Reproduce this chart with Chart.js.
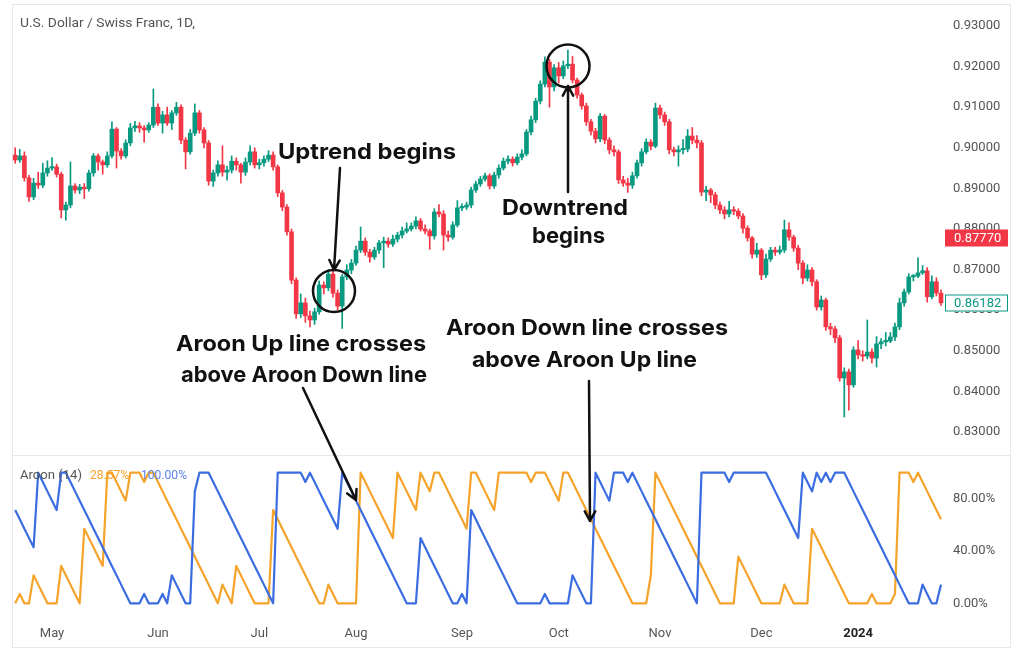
<!DOCTYPE html>
<html>
<head>
<meta charset="utf-8">
<script src="https://cdn.jsdelivr.net/npm/chart.js@4.4.0/dist/chart.umd.min.js"></script>
<style>
  body { margin: 0; background: #fff; width: 1024px; height: 661px; overflow: hidden; position: relative; }
  #frame { position: absolute; left: 12px; top: 4px; width: 999px; height: 644px; border: 1px solid #e6e8ec; box-sizing: border-box; }
  #sep { position: absolute; left: 12px; top: 455px; width: 999px; height: 1px; background: #e6e8ec; }
  canvas { position: absolute; }
  #price { left: 12px; top: 4px; }
  #aroon { left: 12px; top: 456px; }
  svg { position: absolute; left: 0; top: 0; }
</style>
</head>
<body>
<div id="frame"></div>
<div id="sep"></div>
<canvas id="price" width="998" height="451"></canvas>
<canvas id="aroon" width="998" height="191"></canvas>

<svg width="1024" height="661" font-family="Roboto, sans-serif">
  <text x="20" y="26.5" font-size="13.5" fill="#555" textLength="175" lengthAdjust="spacingAndGlyphs">U.S. Dollar / Swiss Franc, 1D,</text>
  <text x="20" y="479" font-size="12.5" fill="#555" textLength="62" lengthAdjust="spacingAndGlyphs">Aroon (14)</text>
  <text x="90" y="479" font-size="12.5" fill="#f5a32a" textLength="39" lengthAdjust="spacingAndGlyphs">28.57%</text>
  <text x="141" y="479" font-size="12.5" fill="#5b82e8" textLength="46" lengthAdjust="spacingAndGlyphs">100.00%</text>

  <g font-family="Inter, 'Open Sans', sans-serif" font-weight="700" font-size="22" fill="#111">
    <text x="278" y="159" textLength="178" lengthAdjust="spacingAndGlyphs">Uptrend begins</text>
    <text x="502" y="215" textLength="126" lengthAdjust="spacingAndGlyphs">Downtrend</text>
    <text x="532" y="243" textLength="73" lengthAdjust="spacingAndGlyphs">begins</text>
    <text x="176" y="351" textLength="250" lengthAdjust="spacingAndGlyphs">Aroon Up line crosses</text>
    <text x="181" y="382" textLength="246" lengthAdjust="spacingAndGlyphs">above Aroon Down line</text>
    <text x="446" y="335" textLength="282" lengthAdjust="spacingAndGlyphs">Aroon Down line crosses</text>
    <text x="472" y="366.5" textLength="225" lengthAdjust="spacingAndGlyphs">above Aroon Up line</text>
  </g>

  <g fill="none" stroke="#111" stroke-width="2.5" stroke-linecap="round" stroke-linejoin="round">
    <circle cx="334" cy="291" r="21"/>
    <circle cx="568" cy="66" r="21.5"/>
    <path d="M340 168 L334 270 M329.4 260 L334 270 L339.7 260.6"/>
    <path d="M568 192 L568 86 M562.8 95.7 L568 86 L573.2 95.7"/>
    <path d="M303 388 L356 500 M347.2 493.4 L356 500 L356.5 489"/>
    <path d="M589 381 L590 521 M584.8 511.3 L590 521 L595.2 511.3"/>
  </g>
</svg>

<script>
// USD/CHF daily candles, 19 Apr 2023 .. 25 Jan 2024 (index = trading day)
const opens = [
  0.8982,0.8970,0.8980,0.8926,0.8879,0.8913,0.8908,0.8938,0.8950,0.8953,
  0.8935,0.8847,0.8859,0.8906,0.8896,0.8903,0.8899,0.8938,0.8980,0.8965,
  0.8958,0.8980,0.9046,0.8992,0.8980,0.9012,0.9049,0.9054,0.9049,0.9044,
  0.9056,0.9100,0.9061,0.9081,0.9061,0.9086,0.9100,0.9019,0.8990,0.9036,
  0.9086,0.9044,0.9012,0.8918,0.8938,0.8958,0.8940,0.8945,0.8967,0.8958,
  0.8940,0.8965,0.8990,0.8958,0.8963,0.8972,0.8982,0.8953,0.8889,0.8854,
  0.8793,0.8674,0.8591,0.8618,0.8586,0.8576,0.8596,0.8662,0.8655,0.8689,
  0.8642,0.8610,0.8682,0.8699,0.8716,0.8748,0.8770,0.8743,0.8731,0.8748,
  0.8766,0.8770,0.8763,0.8775,0.8785,0.8795,0.8800,0.8807,0.8820,0.8800,
  0.8795,0.8783,0.8842,0.8837,0.8785,0.8780,0.8810,0.8852,0.8854,0.8859,
  0.8896,0.8911,0.8923,0.8931,0.8906,0.8933,0.8950,0.8967,0.8972,0.8963,
  0.8977,0.8985,0.9039,0.9069,0.9115,0.9157,0.9211,0.9150,0.9197,0.9177,
  0.9202,0.9206,0.9167,0.9130,0.9103,0.9064,0.9041,0.9022,0.9078,0.9019,
  0.8995,0.8990,0.8921,0.8913,0.8908,0.8931,0.8963,0.8990,0.9014,0.9004,
  0.9098,0.9081,0.9064,0.8995,0.8990,0.8995,0.8997,0.9029,0.9019,0.9012,
  0.8891,0.8896,0.8884,0.8859,0.8847,0.8837,0.8847,0.8844,0.8832,0.8802,
  0.8778,0.8738,0.8748,0.8687,0.8726,0.8748,0.8743,0.8748,0.8798,0.8780,
  0.8753,0.8716,0.8679,0.8699,0.8670,0.8608,0.8625,0.8559,0.8554,0.8532,
  0.8433,0.8448,0.8416,0.8502,0.8490,0.8487,0.8497,0.8482,0.8517,0.8522,
  0.8524,0.8534,0.8559,0.8618,0.8645,0.8682,0.8684,0.8692,0.8697,0.8633,
  0.8670,0.8642
];
const highs = [
  0.9000,0.8996,0.8990,0.8932,0.8925,0.8940,0.8962,0.8968,0.8976,0.8960,
  0.8940,0.8866,0.8965,0.8912,0.8910,0.8912,0.8945,0.8986,0.8985,0.8970,
  0.8990,0.9064,0.9050,0.8998,0.9020,0.9060,0.9065,0.9062,0.9055,0.9062,
  0.9145,0.9108,0.9090,0.9100,0.9092,0.9112,0.9106,0.9025,0.9045,0.9108,
  0.9092,0.9050,0.9018,0.8945,0.8968,0.9005,0.8955,0.8980,0.8975,0.8962,
  0.8975,0.9005,0.9000,0.8972,0.8980,0.8993,0.8990,0.8958,0.8895,0.8860,
  0.8800,0.8680,0.8640,0.8630,0.8598,0.8605,0.8672,0.8670,0.8700,0.8698,
  0.8650,0.8688,0.8712,0.8725,0.8758,0.8805,0.8778,0.8750,0.8755,0.8772,
  0.8780,0.8778,0.8785,0.8792,0.8805,0.8815,0.8815,0.8830,0.8826,0.8810,
  0.8800,0.8850,0.8860,0.8845,0.8795,0.8818,0.8870,0.8862,0.8866,0.8903,
  0.8918,0.8930,0.8938,0.8936,0.8940,0.8958,0.8975,0.8980,0.8978,0.8985,
  0.8995,0.9045,0.9078,0.9122,0.9165,0.9224,0.9218,0.9205,0.9210,0.9214,
  0.9241,0.9225,0.9172,0.9135,0.9110,0.9070,0.9048,0.9085,0.9082,0.9025,
  0.9005,0.8995,0.8930,0.8925,0.8940,0.8970,0.8998,0.9022,0.9020,0.9110,
  0.9105,0.9088,0.9070,0.9002,0.9005,0.9020,0.9045,0.9050,0.9030,0.9018,
  0.8905,0.8900,0.8890,0.8866,0.8855,0.8868,0.8855,0.8850,0.8838,0.8808,
  0.8782,0.8765,0.8752,0.8738,0.8755,0.8755,0.8758,0.8822,0.8815,0.8785,
  0.8760,0.8722,0.8712,0.8705,0.8675,0.8635,0.8630,0.8568,0.8560,0.8538,
  0.8458,0.8455,0.8510,0.8525,0.8500,0.8576,0.8505,0.8535,0.8530,0.8545,
  0.8545,0.8568,0.8630,0.8652,0.8690,0.8688,0.8729,0.8710,0.8705,0.8685,
  0.8680,0.8650
];
const lows = [
  0.8962,0.8964,0.8918,0.8868,0.8872,0.8900,0.8902,0.8930,0.8944,0.8928,
  0.8827,0.8822,0.8852,0.8888,0.8887,0.8875,0.8893,0.8930,0.8945,0.8935,
  0.8952,0.8975,0.8950,0.8972,0.8975,0.9005,0.9040,0.9038,0.9014,0.9038,
  0.9050,0.9055,0.9036,0.9055,0.9045,0.9080,0.9010,0.8948,0.8984,0.9030,
  0.9036,0.9000,0.8908,0.8905,0.8930,0.8930,0.8920,0.8938,0.8945,0.8913,
  0.8932,0.8958,0.8950,0.8948,0.8955,0.8966,0.8945,0.8880,0.8845,0.8785,
  0.8665,0.8580,0.8582,0.8570,0.8559,0.8565,0.8590,0.8640,0.8648,0.8632,
  0.8600,0.8555,0.8675,0.8690,0.8710,0.8742,0.8735,0.8718,0.8725,0.8740,
  0.8705,0.8755,0.8757,0.8768,0.8778,0.8790,0.8795,0.8800,0.8795,0.8788,
  0.8750,0.8775,0.8830,0.8748,0.8770,0.8775,0.8805,0.8845,0.8848,0.8852,
  0.8890,0.8905,0.8918,0.8898,0.8900,0.8925,0.8945,0.8960,0.8955,0.8958,
  0.8970,0.8980,0.9032,0.9062,0.9108,0.9150,0.9100,0.9140,0.9160,0.9170,
  0.9195,0.9160,0.9122,0.9095,0.9055,0.9032,0.9012,0.9015,0.9010,0.8985,
  0.8980,0.8912,0.8905,0.8890,0.8900,0.8925,0.8955,0.8985,0.8995,0.9000,
  0.9072,0.9055,0.8985,0.8980,0.8955,0.8985,0.8990,0.9010,0.9000,0.8882,
  0.8870,0.8865,0.8850,0.8838,0.8825,0.8830,0.8835,0.8825,0.8790,0.8770,
  0.8728,0.8730,0.8675,0.8680,0.8720,0.8735,0.8738,0.8742,0.8772,0.8745,
  0.8700,0.8665,0.8672,0.8660,0.8600,0.8600,0.8550,0.8540,0.8520,0.8425,
  0.8337,0.8354,0.8410,0.8480,0.8475,0.8480,0.8470,0.8460,0.8505,0.8512,
  0.8520,0.8525,0.8552,0.8610,0.8640,0.8672,0.8680,0.8688,0.8620,0.8628,
  0.8635,0.8612
];
const closes = [
  0.8970,0.8980,0.8926,0.8879,0.8913,0.8908,0.8938,0.8950,0.8953,0.8935,
  0.8847,0.8859,0.8906,0.8896,0.8903,0.8899,0.8938,0.8980,0.8965,0.8958,
  0.8980,0.9046,0.8992,0.8980,0.9012,0.9049,0.9054,0.9049,0.9044,0.9056,
  0.9100,0.9061,0.9081,0.9061,0.9086,0.9100,0.9019,0.8990,0.9036,0.9086,
  0.9044,0.9012,0.8918,0.8938,0.8958,0.8940,0.8945,0.8967,0.8958,0.8940,
  0.8965,0.8990,0.8958,0.8963,0.8972,0.8982,0.8953,0.8889,0.8854,0.8793,
  0.8674,0.8591,0.8618,0.8586,0.8576,0.8596,0.8662,0.8655,0.8689,0.8642,
  0.8610,0.8682,0.8699,0.8716,0.8748,0.8770,0.8743,0.8731,0.8748,0.8766,
  0.8770,0.8763,0.8775,0.8785,0.8795,0.8800,0.8807,0.8820,0.8800,0.8795,
  0.8783,0.8842,0.8837,0.8785,0.8780,0.8810,0.8852,0.8854,0.8859,0.8896,
  0.8911,0.8923,0.8931,0.8906,0.8933,0.8950,0.8967,0.8972,0.8963,0.8977,
  0.8985,0.9039,0.9069,0.9115,0.9157,0.9211,0.9150,0.9197,0.9177,0.9202,
  0.9206,0.9167,0.9130,0.9103,0.9064,0.9041,0.9022,0.9078,0.9019,0.8995,
  0.8990,0.8921,0.8913,0.8908,0.8931,0.8963,0.8990,0.9014,0.9004,0.9098,
  0.9081,0.9064,0.8995,0.8990,0.8995,0.8997,0.9029,0.9019,0.9012,0.8891,
  0.8896,0.8884,0.8859,0.8847,0.8837,0.8847,0.8844,0.8832,0.8802,0.8778,
  0.8738,0.8748,0.8687,0.8726,0.8748,0.8743,0.8748,0.8798,0.8780,0.8753,
  0.8716,0.8679,0.8699,0.8670,0.8608,0.8625,0.8559,0.8554,0.8532,0.8433,
  0.8448,0.8416,0.8502,0.8490,0.8487,0.8497,0.8482,0.8517,0.8522,0.8524,
  0.8534,0.8559,0.8618,0.8645,0.8682,0.8684,0.8692,0.8697,0.8633,0.8670,
  0.8642,0.86182
];

// Aroon (14), percent
const aroonUp = [
  0,7.1,0,0,21.4,14.3,7.1,0,0,0,
  28.6,21.4,14.3,7.1,0,57.1,50,42.9,35.7,28.6,
  100,100,92.9,85.7,78.6,100,100,100,92.9,100,
  100,92.9,85.7,78.6,71.4,64.3,57.1,50,42.9,35.7,
  28.6,21.4,14.3,7.1,0,14.3,7.1,0,28.6,21.4,
  14.3,7.1,0,0,0,0,71.4,64.3,57.1,50,
  42.9,35.7,28.6,21.4,14.3,7.1,0,0,14.3,7.1,
  0,0,0,0,0,100,92.9,85.7,78.6,71.4,
  64.3,57.1,50,100,92.9,85.7,78.6,71.4,100,92.9,
  85.7,100,100,92.9,85.7,78.6,71.4,64.3,57.1,100,
  100,92.9,85.7,78.6,71.4,100,100,100,100,100,
  100,100,92.9,100,100,100,92.9,85.7,78.6,100,
  100,92.9,85.7,78.6,71.4,64.3,57.1,50,42.9,35.7,
  28.6,21.4,14.3,7.1,0,0,0,0,21.4,100,
  92.9,85.7,78.6,71.4,64.3,57.1,50,42.9,35.7,28.6,
  21.4,14.3,7.1,0,0,0,0,35.7,28.6,21.4,
  14.3,7.1,0,0,0,0,0,14.3,7.1,0,
  0,0,0,57.1,50,42.9,35.7,28.6,21.4,14.3,
  7.1,0,0,0,0,0,7.1,0,0,0,
  0,7.1,100,100,100,92.9,100,92.9,85.7,78.6,
  71.4,64.3
];
const aroonDown = [
  71.4,64.3,57.1,50,42.9,100,92.9,85.7,78.6,71.4,
  100,100,92.9,85.7,78.6,71.4,64.3,57.1,50,42.9,
  35.7,28.6,21.4,14.3,7.1,0,0,0,7.1,0,
  0,0,7.1,0,21.4,14.3,7.1,0,0,85.7,
  100,100,100,92.9,85.7,78.6,71.4,64.3,57.1,50,
  42.9,35.7,28.6,21.4,14.3,7.1,0,100,100,100,
  100,100,100,92.9,100,92.9,85.7,78.6,71.4,64.3,
  57.1,100,92.9,85.7,78.6,71.4,64.3,57.1,50,42.9,
  35.7,28.6,21.4,14.3,7.1,0,0,0,50,42.9,
  35.7,28.6,21.4,14.3,7.1,0,0,7.1,0,71.4,
  64.3,57.1,50,42.9,35.7,28.6,21.4,14.3,7.1,0,
  0,0,0,0,0,7.1,0,0,0,0,
  0,21.4,14.3,7.1,0,0,100,92.9,85.7,78.6,
  100,100,100,92.9,100,92.9,85.7,78.6,71.4,64.3,
  57.1,50,42.9,35.7,28.6,21.4,14.3,7.1,0,100,
  100,100,100,100,100,92.9,100,100,100,100,
  100,100,100,100,92.9,85.7,78.6,71.4,64.3,57.1,
  50,100,92.9,85.7,100,92.9,100,92.9,100,100,
  100,92.9,85.7,78.6,71.4,64.3,57.1,50,42.9,35.7,
  28.6,21.4,14.3,7.1,0,0,0,14.3,7.1,0,
  0,14.3
];

const monthIdx = [8, 31, 53, 74, 97, 118, 140, 162, 183];
const monthLabels = ['May', 'Jun', 'Jul', 'Aug', 'Sep', 'Oct', 'Nov', 'Dec', '2024'];
const priceTicks = [0.83, 0.84, 0.85, 0.86, 0.87, 0.88, 0.89, 0.90, 0.91, 0.92, 0.93];
const aroonTicks = [0, 40, 80];
const priceMarks = [0.87770, 0.86182]; // red marker, last price

const UP = '#089981', DOWN = '#f23645';
const ORANGE = '#f5a32a', BLUE = '#3b6de0';
const FONT = 'Roboto, sans-serif';
const X_MIN = -0.69, X_MAX = 201.65;

const colorOf = i => closes[i] >= opens[i] ? UP : DOWN;

// right axis: fixed width, no extra vertical padding from labels
const fitRight = s => { s.width = 66; s.paddingTop = 0; s.paddingBottom = 0; };

const priceLabels = {
  id: 'priceLabels',
  afterDraw(chart) {
    const { ctx, chartArea, scales: { y } } = chart;
    const x0 = chartArea.right + 1, w = 63;
    priceMarks.forEach((p, k) => {
      const yc = Math.round(y.getPixelForValue(p));
      ctx.save();
      if (k === 0) {
        ctx.fillStyle = DOWN;
        ctx.fillRect(x0, yc - 8.5, w, 17);
        ctx.fillStyle = '#fff';
      } else {
        ctx.fillStyle = '#fff';
        ctx.fillRect(x0, yc - 8.5, w, 17);
        ctx.strokeStyle = UP;
        ctx.lineWidth = 1;
        ctx.strokeRect(x0 + 0.5, yc - 8, w - 1, 16);
        ctx.fillStyle = UP;
      }
      ctx.font = '13px ' + FONT;
      ctx.textBaseline = 'middle';
      ctx.fillText(p.toFixed(5), x0 + 9, yc + 0.5);
      ctx.restore();
    });
  }
};

new Chart(document.getElementById('price'), {
  type: 'bar',
  data: {
    datasets: [
      {
        data: closes.map((c, i) => ({ x: i, y: [opens[i], c] })),
        backgroundColor: ctx => colorOf(ctx.dataIndex),
        barThickness: 4,
        minBarLength: 1.5,
        grouped: false
      },
      {
        data: closes.map((c, i) => ({ x: i, y: [lows[i], highs[i]] })),
        backgroundColor: ctx => colorOf(ctx.dataIndex),
        barThickness: 1,
        grouped: false
      }
    ]
  },
  options: {
    responsive: false,
    animation: false,
    events: [],
    layout: { padding: 0 },
    plugins: { legend: { display: false }, tooltip: { enabled: false } },
    scales: {
      x: { type: 'linear', display: false, min: X_MIN, max: X_MAX, offset: false },
      y: {
        position: 'right',
        min: 0.824335,
        max: 0.935419,
        grid: { display: false, drawTicks: false },
        border: { display: false },
        afterBuildTicks: s => { s.ticks = priceTicks.map(v => ({ value: v })); },
        afterFit: fitRight,
        ticks: { padding: 9, color: '#555', font: { family: FONT, size: 13 }, callback: v => v.toFixed(5) }
      }
    }
  },
  plugins: [priceLabels]
});

new Chart(document.getElementById('aroon'), {
  type: 'line',
  data: {
    datasets: [
      { data: aroonDown.map((v, i) => ({ x: i, y: v })), borderColor: BLUE, borderWidth: 2.2, pointRadius: 0, borderJoinStyle: 'round' },
      { data: aroonUp.map((v, i) => ({ x: i, y: v })), borderColor: ORANGE, borderWidth: 2.2, pointRadius: 0, borderJoinStyle: 'round' }
    ]
  },
  options: {
    responsive: false,
    animation: false,
    events: [],
    layout: { padding: 0 },
    plugins: { legend: { display: false }, tooltip: { enabled: false } },
    scales: {
      x: {
        type: 'linear',
        min: X_MIN,
        max: X_MAX,
        grid: { display: false, drawTicks: false },
        border: { display: false },
        afterBuildTicks: s => { s.ticks = monthIdx.map(v => ({ value: v })); },
        afterFit: s => { s.height = 27; s.paddingLeft = 0; s.paddingRight = 0; },
        ticks: {
          padding: 6,
          autoSkip: false,
          maxRotation: 0,
          color: c => (c.tick && c.tick.value === 183) ? '#222' : '#555',
          font: c => ({ family: FONT, size: 13, weight: (c.tick && c.tick.value === 183) ? 'bold' : 'normal' }),
          callback: v => monthLabels[monthIdx.indexOf(v)]
        }
      },
      y: {
        position: 'right',
        min: -12.8,
        max: 112.8,
        grid: { display: false, drawTicks: false },
        border: { display: false },
        afterBuildTicks: s => { s.ticks = aroonTicks.map(v => ({ value: v })); },
        afterFit: fitRight,
        ticks: { padding: 9, color: '#555', font: { family: FONT, size: 13 }, callback: v => v.toFixed(2) + '%' }
      }
    }
  }
});
</script>
</body>
</html>
